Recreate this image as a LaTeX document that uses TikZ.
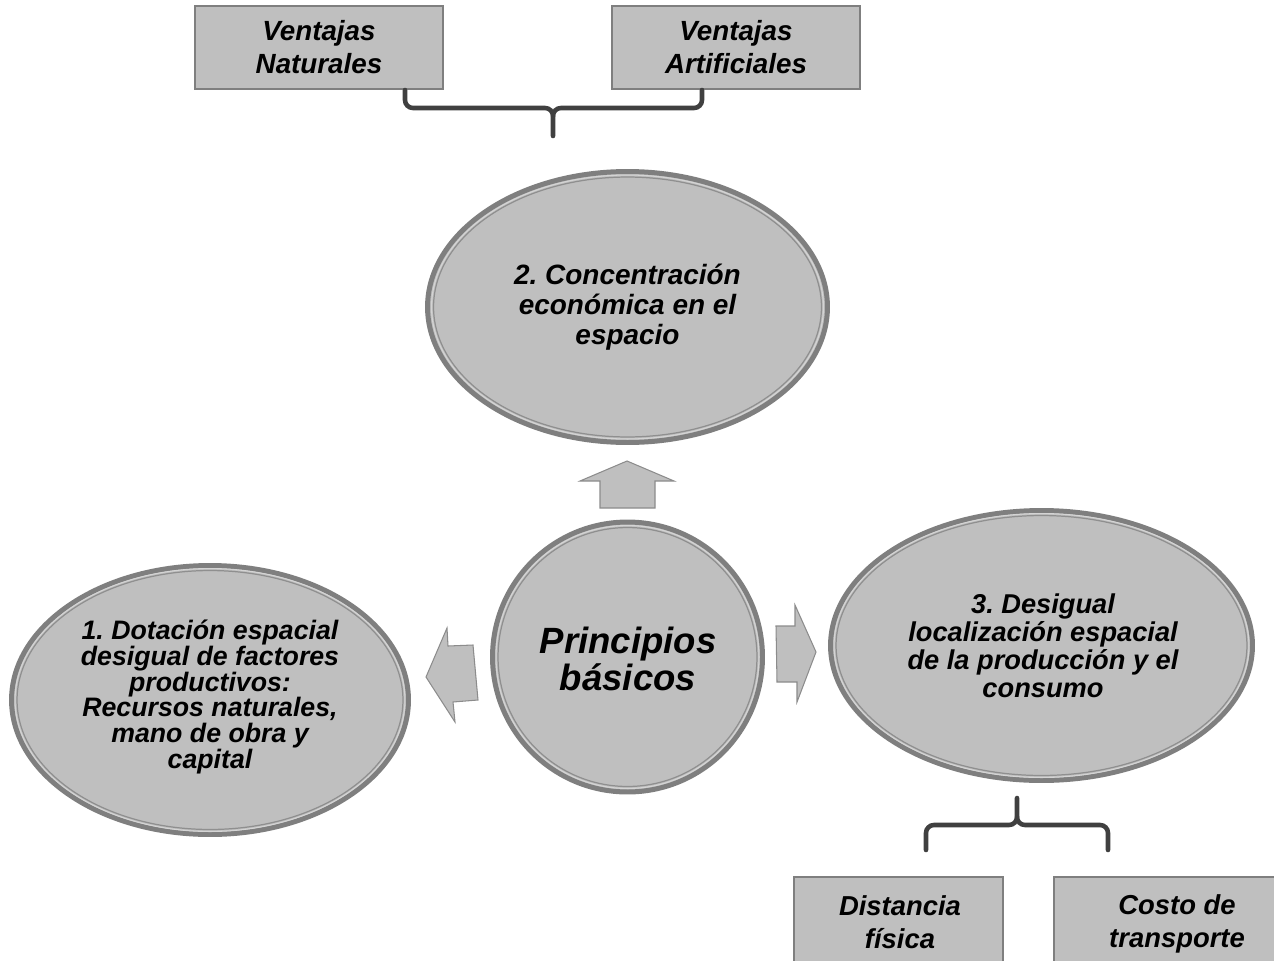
\documentclass[tikz,border=0pt]{standalone}
\usepackage{fontspec}
\setmainfont{Liberation Sans}
\usetikzlibrary{shapes.geometric}
\frenchspacing
\definecolor{fillg}{HTML}{BFBFBF}
\definecolor{edgeg}{HTML}{7F7F7F}
\definecolor{lightg}{HTML}{D4D4D4}
\definecolor{innerg}{HTML}{8F8F8F}
\definecolor{bracec}{HTML}{404040}
\definecolor{arrowe}{HTML}{8C8C8C}
\tikzset{
  ellst/.style={ellipse, fill=fillg, draw=edgeg, line width=2.85pt, inner sep=0pt, align=center},
  lightline/.style={draw=lightg, line width=0.6pt},
  innerline/.style={draw=innerg, line width=0.7pt},
  boxst/.style={rectangle, fill=fillg, draw=edgeg, line width=0.85pt},
  txtst/.style={align=center, font=\fontsize{15.8pt}{18.8pt}\selectfont\bfseries\itshape, inner sep=0pt},
  bracest/.style={draw=bracec, line width=2.6pt, line cap=round},
  blockarrow/.style={fill=fillg, draw=arrowe, line width=0.6pt, line join=miter}
}
\begin{document}
\begin{tikzpicture}[x=0.02cm, y=-0.02cm]
\useasboundingbox (0,0) rectangle (1274,960);
% top boxes
\node[boxst, minimum width=4.96cm, minimum height=1.66cm] (vnbox) at (319,47.5) {};
\node[txtst] (vn) at (vnbox.center) {Ventajas\\Naturales};
\node[boxst, minimum width=4.96cm, minimum height=1.66cm] (vabox) at (736,47.5) {};
\node[txtst] (va) at (vabox.center) {Ventajas\\Artificiales};
% top brace
\coordinate (tbl) at (405,90);
\coordinate (tbr) at (702,90);
\coordinate (tbt) at (553,136);
\draw[bracest] (tbl) -- (405,100) to[out=-90,in=180] (413,108) -- (545,108) to[out=0,in=90] (553,116) -- (tbt);
\draw[bracest] (tbr) -- (702,100) to[out=-90,in=0] (694,108) -- (561,108) to[out=180,in=90] (553,116);
% top ellipse
\node[ellst, minimum width=8cm, minimum height=5.42cm] (conc) at (627.5,307) {};
\draw[lightline] (conc.center) ellipse [x radius=3.92cm, y radius=2.64cm];
\draw[innerline] (conc.center) ellipse [x radius=3.88cm, y radius=2.60cm];
\node[txtst, font=\fontsize{15.9pt}{17.2pt}\selectfont\bfseries\itshape] (conct) at (conc.center) {2. Concentración\\económica en el\\espacio};
% up arrow
\draw[blockarrow] (627,461) -- (674,481) -- (655,481) -- (655,508) -- (600,508) -- (600,481) -- (580,481) -- cycle;
% center circle
\node[ellst, minimum width=5.4cm, minimum height=5.4cm] (prin) at (627.5,657) {};
\draw[lightline] (prin.center) circle [radius=2.63cm];
\draw[innerline] (prin.center) circle [radius=2.59cm];
\node[txtst, font=\fontsize{20.8pt}{21pt}\selectfont\bfseries\itshape] (print) at (628,659) {Principios\\básicos};
% left arrow
\draw[blockarrow] (426,677) -- (447,628) -- (448,646) -- (473,645) -- (478,700) -- (453,702) -- (455,722) -- cycle;
% right arrow
\draw[blockarrow] (816,652) -- (795,605) -- (795,626) -- (776,626) -- (777,682) -- (797,682) -- (797,702) -- cycle;
% left ellipse
\node[ellst, minimum width=7.94cm, minimum height=5.38cm] (dot) at (210,700) {};
\draw[lightline] (dot.center) ellipse [x radius=3.90cm, y radius=2.63cm];
\draw[innerline] (dot.center) ellipse [x radius=3.86cm, y radius=2.59cm];
\node[txtst, font=\fontsize{15.2pt}{14.6pt}\selectfont\bfseries\itshape] (dott) at (210,697) {1. Dotación espacial\\desigual de factores\\productivos:\\Recursos naturales,\\mano de obra y\\capital};
% right ellipse
\node[ellst, minimum width=8.44cm, minimum height=5.4cm] (des) at (1041.5,645.5) {};
\draw[lightline] (des.center) ellipse [x radius=4.15cm, y radius=2.64cm];
\draw[innerline] (des.center) ellipse [x radius=4.11cm, y radius=2.60cm];
\node[txtst, font=\fontsize{15.5pt}{16pt}\selectfont\bfseries\itshape] (dest) at (1043,646) {3. Desigual\\localización espacial\\de la producción y el\\consumo};
% bottom brace
\coordinate (bbl) at (926,850);
\coordinate (bbr) at (1108,850);
\coordinate (bbt) at (1017,798);
\draw[bracest] (bbl) -- (926,833) to[out=90,in=180] (934,825) -- (1009,825) to[out=0,in=-90] (1017,817) -- (bbt);
\draw[bracest] (bbr) -- (1108,833) to[out=90,in=0] (1100,825) -- (1025,825) to[out=180,in=-90] (1017,817);
% bottom boxes
\draw[boxst] (794,877) rectangle (1003,1010);
\node[txtst, font=\fontsize{15.6pt}{19pt}\selectfont\bfseries\itshape] (dist) at (900,922) {Distancia\\física};
\draw[boxst] (1054,877) rectangle (1300,1010);
\node[txtst, font=\fontsize{15.6pt}{19pt}\selectfont\bfseries\itshape] (cost) at (1177,924) {Costo de\\transporte};
\end{tikzpicture}
\end{document}
